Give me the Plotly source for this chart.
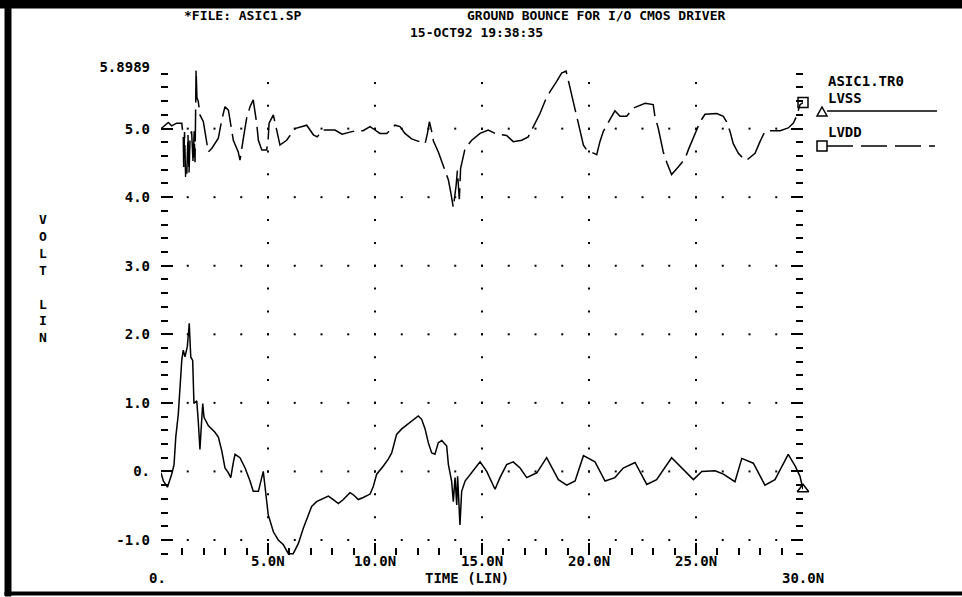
import numpy as np
import plotly.graph_objects as go

# ---------------- data ----------------
lvdd_t = [0, 0.34, 0.50, 0.73, 0.97, 1.04, 1.06, 1.10, 1.15, 1.20, 1.26, 1.31, 1.36, 1.43, 1.50, 1.55,
          1.59, 1.64, 1.68, 1.74, 1.82, 1.98, 2.21, 2.37, 2.68, 2.84, 2.99, 3.15, 3.30, 3.38, 3.61, 3.69,
          3.85, 4.00, 4.16, 4.31, 4.47, 4.55, 4.71, 4.94, 5.01, 5.05, 5.25, 5.41, 5.56, 5.87, 6.26, 6.81,
          7.12, 7.30, 7.57, 7.76, 8.13, 8.46, 8.97, 9.44, 9.77, 10.0, 10.23, 10.55, 10.93, 11.17, 11.40,
          11.71, 12.02, 12.34, 12.45, 12.54, 12.65, 12.73, 12.96, 13.19, 13.43, 13.54, 13.66, 13.79, 13.85,
          13.94, 14.00, 14.10, 14.21, 14.52, 14.91, 15.29, 15.61, 16.15, 16.46, 16.86, 17.16, 17.40, 17.71,
          17.94, 18.18, 18.49, 18.72, 18.93, 19.11, 19.30, 19.45, 19.61, 19.74, 19.89, 20.36, 20.51, 20.67,
          20.83, 21.21, 21.45, 21.76, 22.07, 22.62, 23.00, 23.08, 23.24, 23.47, 23.63, 23.86, 24.17, 24.49,
          24.64, 24.88, 25.19, 25.42, 25.97, 26.28, 26.43, 26.59, 26.74, 26.98, 27.29, 27.37, 27.76, 27.99,
          28.22, 28.46, 28.93, 29.31, 29.55, 29.70, 29.86, 30.00]
lvdd_v = [5.00, 5.09, 5.04, 5.08, 5.08, 4.88, 4.44, 4.95, 4.30, 4.27, 4.91, 4.35, 4.90, 4.96, 4.50, 4.96,
          4.51, 5.86, 5.45, 5.40, 5.20, 5.10, 4.66, 4.71, 4.86, 5.13, 5.32, 5.27, 4.98, 4.83, 4.66, 4.54,
          4.86, 5.15, 5.32, 5.42, 5.08, 4.83, 4.69, 4.69, 4.86, 5.08, 5.20, 4.98, 4.76, 4.83, 5.00, 5.05,
          4.91, 4.88, 4.98, 4.98, 4.98, 4.92, 4.96, 4.97, 5.03, 4.98, 4.93, 4.93, 5.05, 5.03, 4.93,
          4.85, 4.81, 4.78, 4.93, 5.10, 4.96, 4.82, 4.66, 4.47, 4.25, 4.07, 3.85, 4.17, 4.39,
          3.97, 4.42, 4.56, 4.71, 4.83, 4.93, 4.98, 4.93, 4.90, 4.81, 4.83, 4.88, 5.03, 5.22,
          5.40, 5.54, 5.69, 5.81, 5.84, 5.59, 5.37, 5.15, 4.93, 4.76, 4.69, 4.62, 4.81, 4.96,
          5.05, 5.26, 5.18, 5.18, 5.30, 5.37, 5.35, 5.18, 5.00, 4.66, 4.51, 4.33, 4.44, 4.56,
          4.69, 4.88, 5.10, 5.21, 5.22, 5.18, 5.10, 4.96, 4.78, 4.64, 4.54, 4.54, 4.64, 4.81,
          4.96, 4.97, 4.97, 5.01, 5.08, 5.18, 5.35, 5.38]

lvss_t = [0, 0.11, 0.30, 0.50, 0.61, 0.69, 0.81, 0.89, 0.97, 1.04,
          1.12, 1.23, 1.32, 1.39, 1.48, 1.54, 1.67, 1.74, 1.82, 1.87,
          1.95, 2.01, 2.21, 2.52, 2.68, 2.84, 2.99, 3.15, 3.26, 3.38,
          3.46, 3.69, 3.93, 4.16, 4.31, 4.55, 4.71, 4.78, 4.86, 5.01,
          5.25, 5.48, 5.72, 5.95, 6.18, 6.42, 6.65, 6.88, 7.04, 7.27,
          7.51, 7.82, 8.05, 8.29, 8.52, 8.83, 8.99, 9.22, 9.45, 9.77,
          9.92, 10.08, 10.39, 10.62, 10.78, 11.01, 11.25, 11.48, 11.79, 12.02,
          12.18, 12.34, 12.49, 12.65, 12.80, 12.96, 13.12, 13.35, 13.43, 13.58,
          13.66, 13.74, 13.82, 13.86, 13.97, 14.05, 14.21, 14.52, 14.91, 15.22,
          15.61, 15.84, 16.15, 16.46, 16.78, 17.09, 17.56, 18.02, 18.57, 18.96,
          19.35, 19.74, 20.28, 20.75, 21.21, 21.60, 22.15, 22.70, 23.16, 23.86,
          24.41, 24.88, 25.27, 25.89, 26.28, 26.82, 27.14, 27.68, 28.22, 28.69,
          29.31, 29.63, 29.86, 30.0]
lvss_v = [-0.02, -0.14, -0.23, -0.04, 0.10, 0.50, 0.84, 1.30, 1.62, 1.77,
          1.67, 1.82, 2.16, 1.67, 1.62, 0.99, 1.03, 0.74, 0.32, 0.59,
          0.99, 0.79, 0.67, 0.57, 0.50, 0.30, 0.05, -0.02, -0.09, 0.13,
          0.25, 0.20, 0.05, -0.14, -0.29, -0.29, -0.09, 0.00, -0.22, -0.63,
          -0.88, -1.00, -1.07, -1.20, -1.20, -1.05, -0.83, -0.63, -0.51, -0.44,
          -0.41, -0.36, -0.41, -0.47, -0.41, -0.31, -0.34, -0.41, -0.38, -0.33,
          -0.22, -0.04, 0.08, 0.18, 0.27, 0.54, 0.62, 0.68, 0.76, 0.81,
          0.76, 0.62, 0.42, 0.27, 0.25, 0.42, 0.45, 0.37, 0.10, -0.14,
          -0.44, -0.09, -0.49, -0.07, -0.78, -0.29, -0.14, -0.02, 0.14, 0.00,
          -0.26, -0.09, 0.10, 0.14, 0.05, -0.09, -0.02, 0.20, -0.12, -0.20,
          -0.14, 0.23, 0.14, -0.14, -0.09, 0.05, 0.13, -0.19, -0.12, 0.20,
          0.03, -0.12, 0.00, 0.01, -0.04, -0.15, 0.19, 0.12, -0.20, -0.12,
          0.25, 0.08, -0.07, -0.26]

x_major = [0, 5, 10, 15, 20, 25, 30]
x_ticktext = ["0.", "5.0N", "10.0N", "15.0N", "20.0N", "25.0N", "30.0N"]
x_tickrow = [2, 1, 1, 1, 1, 1, 2]          # the end labels sit on the lower row
y_major = [-1, 0, 1, 2, 3, 4, 5, 5.8989]
y_ticktext = ["-1.0", "0.", "1.0", "2.0", "3.0", "4.0", "5.0", "5.8989"]

title_file = "*FILE: ASIC1.SP"
title_main = "GROUND BOUNCE FOR I/O CMOS DRIVER"
title_date = "15-OCT92 19:38:35"
legend_file = "ASIC1.TR0"
name_lvss = "LVSS"
name_lvdd = "LVDD"
x_title = "TIME (LIN)"
y_title = "VOLT LIN"

# ---------------- layout geometry (pixels) ----------------
W, H = 962, 597
L, R, T, B = 161, 803, 67, 555
Y_LOW = -1.219
ROW_Y = {1: 561, 2: 578}

def fx(p):
    return (p - L) / (R - L)

def fy(p):
    return (B - p) / (B - T)

FONT = "DejaVu Sans Mono"
BLACK = "#000000"
FNT = dict(family=FONT, size=14, color=BLACK, weight="bold")

fig = go.Figure()

# grid dots at major positions
gx, gy = [], []
for yv in y_major[:-1]:
    for xv in np.arange(1.25, 30, 1.25):
        gx.append(xv); gy.append(yv)
for xv in x_major[1:-1]:
    for yv in np.arange(-1 + 1/3, 5.85, 1/3):
        gx.append(xv); gy.append(yv)
fig.add_trace(go.Scatter(x=gx, y=gy, mode="markers", hoverinfo="skip", showlegend=False,
                         marker=dict(symbol="square", size=2, color=BLACK, line=dict(width=0))))

fig.add_trace(go.Scatter(x=lvdd_t, y=lvdd_v, mode="lines", name=name_lvdd, showlegend=False,
                         line=dict(color=BLACK, width=1.5, dash="32px,7px")))
fig.add_trace(go.Scatter(x=lvss_t, y=lvss_v, mode="lines", name=name_lvss, showlegend=False,
                         line=dict(color=BLACK, width=1.5)))
fig.add_trace(go.Scatter(x=[lvdd_t[-1]], y=[lvdd_v[-1]], mode="markers", showlegend=False, cliponaxis=False,
                         marker=dict(symbol="square-open", size=10, color=BLACK, line=dict(width=1.5))))
fig.add_trace(go.Scatter(x=[lvss_t[-1]], y=[lvss_v[-1]], mode="markers", showlegend=False, cliponaxis=False,
                         marker=dict(symbol="triangle-up-open", size=10, color=BLACK, line=dict(width=1.5))))

ann = []
def text(s, x, y, xa="center", size=14):
    f = dict(FNT); f["size"] = size
    ann.append(dict(text=s, x=fx(x), y=fy(y), xref="paper", yref="paper", xanchor=xa, yanchor="middle",
                    showarrow=False, font=f))

text(title_file, 243, 15, size=13)
text(title_main, 596, 15, size=13)
text(title_date, 476, 32, size=13)
text(legend_file, 826, 81, xa="left")
text(name_lvss, 826, 98, xa="left")
text(name_lvdd, 826, 132, xa="left")
text(x_title, 467, ROW_Y[2])
text("<br>".join(ch if ch != " " else "\u00a0" for ch in y_title), 43, 278, size=13)

# x tick labels (two rows, as in the reference), placed on the x data scale
for xv, lab, row in zip(x_major, x_ticktext, x_tickrow):
    ann.append(dict(text=lab, x=xv, xref="x", y=fy(ROW_Y[row]), yref="paper",
                    xanchor="center", yanchor="middle", showarrow=False,
                    xshift=(-4 if xv == 0 else 0), font=FNT))

shapes = []
def box(x0, y0, x1, y1):
    shapes.append(dict(type="rect", xref="paper", yref="paper", x0=fx(x0), x1=fx(x1), y0=fy(y1), y1=fy(y0),
                       fillcolor=BLACK, line=dict(width=1, color=BLACK), layer="above"))

# frame bars (thick top, thick left, thin bottom)
box(-20, -20, W + 20, 8)
box(5, 0, 11, 596)
box(5, 592, W + 20, 595)
# legend lines and symbols
shapes.append(dict(type="line", xref="paper", yref="paper", x0=fx(827), x1=fx(937), y0=fy(111), y1=fy(111),
                   line=dict(color=BLACK, width=1.5)))
shapes.append(dict(type="line", xref="paper", yref="paper", x0=fx(827), x1=fx(935), y0=fy(146), y1=fy(146),
                   line=dict(color=BLACK, width=1.5, dash="26px,8px")))
shapes.append(dict(type="path", xref="paper", yref="paper",
                   path=f"M {fx(817)} {fy(116)} L {fx(827)} {fy(116)} L {fx(822)} {fy(107)} Z",
                   line=dict(color=BLACK, width=1.5)))
shapes.append(dict(type="rect", xref="paper", yref="paper", x0=fx(817), x1=fx(827), y0=fy(141), y1=fy(151),
                   line=dict(color=BLACK, width=1.5)))

fig.update_layout(
    width=W, height=H, autosize=False,
    margin=dict(l=L, r=W - R, t=T, b=H - B),
    paper_bgcolor="white", plot_bgcolor="white",
    font=FNT,
    showlegend=False,
    annotations=ann, shapes=shapes,
    xaxis=dict(range=[0, 30], tickmode="array", tickvals=x_major, showticklabels=False,
               ticks="inside", ticklen=12, tickwidth=1.5, tickcolor=BLACK,
               showline=False, showgrid=False, zeroline=False,
               minor=dict(tick0=0, dtick=1, ticks="inside", ticklen=7, tickwidth=1.5,
                          tickcolor=BLACK, showgrid=False)),
    yaxis=dict(range=[Y_LOW, 5.8989], tickmode="array", tickvals=y_major, ticktext=y_ticktext,
               ticks="inside", ticklen=12, tickwidth=1.5, tickcolor=BLACK, mirror="ticks",
               showline=False, showgrid=False, zeroline=False, ticklabelstandoff=10,
               tickfont=FNT,
               minor=dict(tick0=0, dtick=0.2, ticks="inside", ticklen=7, tickwidth=1.5,
                          tickcolor=BLACK, showgrid=False)),
)

fig.write_html("out.html", config={"displayModeBar": False},
               post_script="document.body.style.margin='0';document.body.style.overflow='hidden';")
